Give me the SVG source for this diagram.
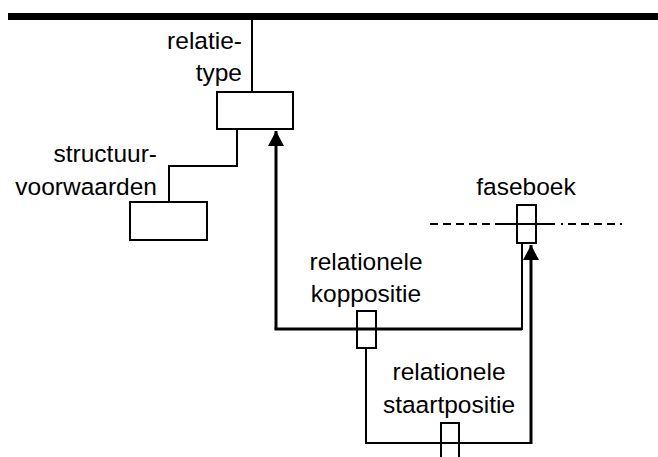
<svg xmlns="http://www.w3.org/2000/svg" width="658" height="457" viewBox="0 0 658 457">
  <style>
    .lbl { font-family: "Liberation Sans", Arial, sans-serif; font-size: 24.5px; fill: #000; }
    .box { fill: #fff; stroke: #000; stroke-width: 2; }
    .thin { fill: none; stroke: #000; stroke-width: 2; }
    .thick { fill: none; stroke: #000; stroke-width: 3; }
  </style>
  <defs>
    <marker id="arrow" markerUnits="userSpaceOnUse" markerWidth="16" markerHeight="16" refX="15" refY="8" orient="auto">
      <path d="M0,0 L15,8 L0,16 Z" fill="#000"/>
    </marker>
  </defs>

  <!-- main bar -->
  <line x1="8" y1="16.5" x2="658" y2="16.5" stroke="#000" stroke-width="7"/>

  <g id="connectors">
    <!-- relatietype stem -->
    <line class="thin" x1="252" y1="20" x2="252" y2="92"/>
    <!-- structuurvoorwaarden -->
    <path class="thin" d="M237,129 V166 H169 V202"/>
    <!-- relationele koppositie -->
    <path class="thick" d="M276,329 V131" marker-end="url(#arrow)"/>
    <path class="thick" d="M274.5,329 H522"/>
    <path class="thin" d="M522,330 V243"/>
    <!-- fase line -->
    <line x1="430" y1="224" x2="495" y2="224" stroke="#000" stroke-width="2" stroke-dasharray="8,5"/>
    <line x1="495" y1="224" x2="555" y2="224" stroke="#000" stroke-width="2"/>
    <line x1="561" y1="224" x2="623" y2="224" stroke="#000" stroke-width="2" stroke-dasharray="2,5,8,5,8,5,8,5,8,5"/>
    <!-- relationele staartpositie -->
    <path class="thin" d="M366,348 V443 H531"/>
    <path class="thick" d="M531,444 V245" marker-end="url(#arrow)"/>
    <line class="thin" x1="441" y1="443" x2="458" y2="443"/>
  </g>

  <g id="relatietype">
    <rect class="box" x="217" y="92" width="76" height="37"/>
    <text class="lbl" x="242" y="49" text-anchor="end">relatie-</text>
    <text class="lbl" x="242" y="81" text-anchor="end">type</text>
  </g>

  <g id="structuurvoorwaarden">
    <rect class="box" x="130" y="202" width="77" height="38"/>
    <text class="lbl" x="157" y="162" text-anchor="end">structuur-</text>
    <text class="lbl" x="157" y="195" text-anchor="end">voorwaarden</text>
  </g>

  <g id="faseboek">
    <rect x="517" y="205" width="19" height="38" fill="none" stroke="#000" stroke-width="2"/>
    <text class="lbl" x="526" y="195" text-anchor="middle">faseboek</text>
  </g>

  <g id="relationele-koppositie">
    <rect x="357" y="311" width="19" height="37" fill="none" stroke="#000" stroke-width="2"/>
    <text class="lbl" x="366" y="270" text-anchor="middle">relationele</text>
    <text class="lbl" x="366" y="302" text-anchor="middle">koppositie</text>
  </g>

  <g id="relationele-staartpositie">
    <path class="thin" d="M441,458 V423 H459 V458"/>
    <text class="lbl" x="449" y="380" text-anchor="middle">relationele</text>
    <text class="lbl" x="449" y="413" text-anchor="middle">staartpositie</text>
  </g>
</svg>
